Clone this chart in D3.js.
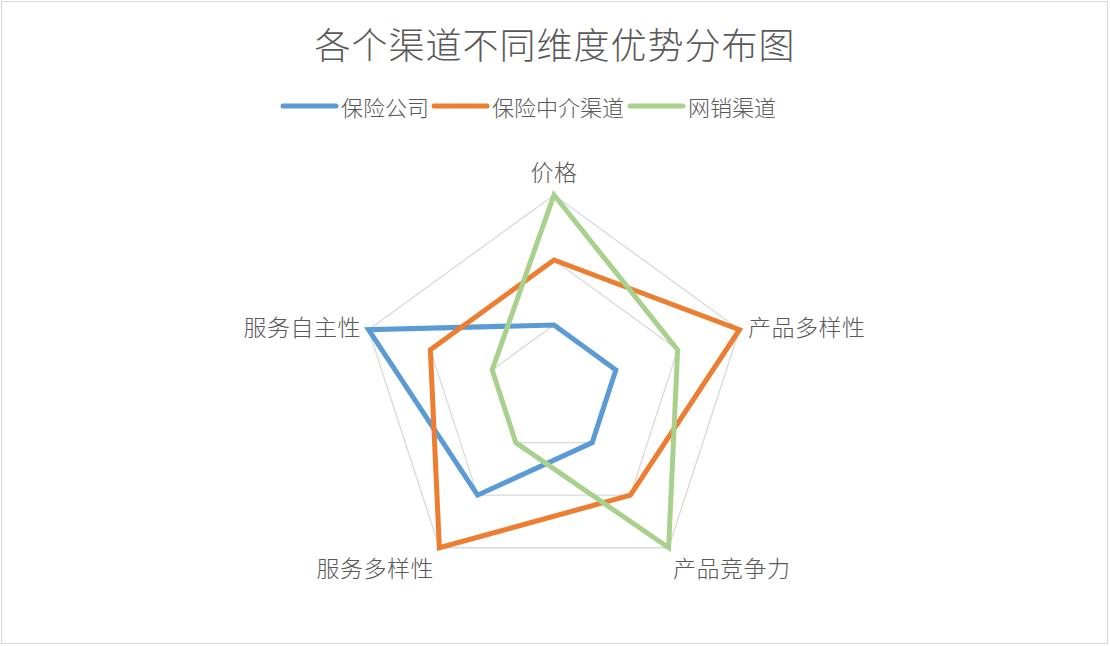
<!DOCTYPE html>
<html><head><meta charset="utf-8">
<script src="https://cdn.jsdelivr.net/npm/d3@7"></script>
<style>
body{margin:0;background:#fff;}
svg{display:block;font-family:"Noto Sans CJK SC","Noto Sans",sans-serif;font-weight:300;}
</style></head>
<body><svg id="c" width="1110" height="646"></svg>
<script>
const title = "各个渠道不同维度优势分布图";
const axes = ["价格","产品多样性","产品竞争力","服务多样性","服务自主性"];
const seriesNames = ["保险公司","保险中介渠道","网销渠道"];
const colors = ["#5B9BD5","#ED7D31","#A9D18E"];
const s1 = [1,1,1,2,3];
const s2 = [2,3,2,3,2];
const s3 = [3,2,3,1,1];
const seriesValues = [s1,s2,s3];
const ringValues = [1,2,3];

const svg = d3.select("#c");
svg.append("rect").attr("x",1.5).attr("y",1.5).attr("width",1106).attr("height",642)
  .attr("fill","#fff").attr("stroke","#D9D9D9").attr("stroke-width",1);

const cx = 554, cy = 390, R = 195;
const r = d3.scaleLinear().domain([0,3]).range([0,R]);
const ang = d3.scalePoint().domain(axes).range([0, 2*Math.PI*(axes.length-1)/axes.length]);
const pt = (a,v) => [cx + r(v)*Math.sin(ang(a)), cy - r(v)*Math.cos(ang(a))];

// grid
const g = svg.append("g");
ringValues.forEach(v=>{
  g.append("path").attr("d", d3.line()(axes.map(a=>pt(a,v))) + "Z")
   .attr("fill","none").attr("stroke","#D9D9D9").attr("stroke-width",1.3);
});

// series
seriesValues.forEach((vals,i)=>{
  svg.append("path").attr("d", d3.line()(axes.map((a,j)=>pt(a,vals[j]))) + "Z")
    .attr("fill","none").attr("stroke",colors[i]).attr("stroke-width",5)
    .attr("stroke-linejoin","miter");
});

// axis labels
const labelPos = [
  {x:554, y:171, anchor:"middle"},
  {x:748, y:326, anchor:"start"},
  {x:673, y:567, anchor:"start"},
  {x:434, y:567, anchor:"end"},
  {x:361, y:326, anchor:"end"}
];
axes.forEach((a,i)=>{
  svg.append("text").attr("x",labelPos[i].x).attr("y",labelPos[i].y)
    .attr("text-anchor",labelPos[i].anchor).attr("dominant-baseline","central")
    .attr("font-size",23).attr("letter-spacing",0.5).attr("fill","#595959").text(a);
});

// title
svg.append("text").attr("x",555).attr("y",43).attr("text-anchor","middle")
  .attr("dominant-baseline","central").attr("font-size",36).attr("letter-spacing",1)
  .attr("fill","#595959").text(title);

// legend
const legX = [283, 434, 630];
seriesNames.forEach((n,i)=>{
  svg.append("line").attr("x1",legX[i]).attr("x2",legX[i]+53).attr("y1",106).attr("y2",106)
    .attr("stroke",colors[i]).attr("stroke-width",5).attr("stroke-linecap","round");
  svg.append("text").attr("x",legX[i]+58).attr("y",106).attr("dominant-baseline","central")
    .attr("font-size",22).attr("fill","#595959").text(n);
});
</script></body></html>
